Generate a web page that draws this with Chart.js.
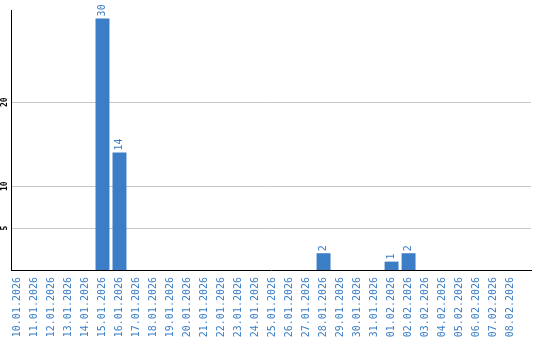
<!DOCTYPE html>
<html>
<head>
<meta charset="utf-8">
<script src="https://cdn.jsdelivr.net/npm/chart.js@4.4.1/dist/chart.umd.min.js"></script>
<style>
  html, body { margin: 0; padding: 0; background: #fff; }
  #wrap { width: 540px; height: 340px; }
</style>
</head>
<body>
<div id="wrap"><canvas id="c"></canvas></div>
<script>
// Chart data
const dates = [
    '10.01.2026', '11.01.2026', '12.01.2026', '13.01.2026', '14.01.2026',
    '15.01.2026', '16.01.2026', '17.01.2026', '18.01.2026', '19.01.2026',
    '20.01.2026', '21.01.2026', '22.01.2026', '23.01.2026', '24.01.2026',
    '25.01.2026', '26.01.2026', '27.01.2026', '28.01.2026', '29.01.2026',
    '30.01.2026', '31.01.2026', '01.02.2026', '02.02.2026', '03.02.2026',
    '04.02.2026', '05.02.2026', '06.02.2026', '07.02.2026', '08.02.2026'
];
const counts = [
    0, 0, 0, 0, 0,
    30, 14, 0, 0, 0,
    0, 0, 0, 0, 0,
    0, 0, 0, 2, 0,
    0, 0, 1, 2, 0,
    0, 0, 0, 0, 0
];
const yTicks = [5, 10, 20];

const BLUE = '#3b7ec5';
const MONO = '"DejaVu Sans Mono", monospace';

// Rotated value labels above bars + rotated y tick labels
const labelsPlugin = {
    id: 'rotLabels',
    afterDatasetsDraw(chart) {
        const ctx = chart.ctx;
        const meta = chart.getDatasetMeta(0);
        ctx.save();
        ctx.font = '10px ' + MONO;
        ctx.fillStyle = BLUE;
        ctx.textAlign = 'left';
        ctx.textBaseline = 'middle';
        meta.data.forEach((bar, i) => {
            if (!counts[i]) return;
            ctx.save();
            ctx.translate(bar.x, bar.y - 2);
            ctx.rotate(-Math.PI / 2);
            ctx.fillText(String(counts[i]), 0, 0);
            ctx.restore();
        });
        ctx.restore();

        const y = chart.scales.y;
        ctx.save();
        ctx.font = 'bold 8px ' + MONO;
        ctx.fillStyle = '#000';
        ctx.textAlign = 'center';
        ctx.textBaseline = 'middle';
        yTicks.forEach(v => {
            ctx.save();
            ctx.translate(5, y.getPixelForValue(v));
            ctx.rotate(-Math.PI / 2);
            ctx.fillText(String(v), 0, 0);
            ctx.restore();
        });
        ctx.restore();
    }
};

new Chart(document.getElementById('c'), {
    type: 'bar',
    data: {
        datasets: [{
            data: counts.map((v, i) => ({ x: i, y: v })),
            backgroundColor: BLUE,
            borderWidth: 0,
            barPercentage: 0.82,
            categoryPercentage: 1
        }]
    },
    options: {
        responsive: true,
        maintainAspectRatio: false,
        animation: false,
        layout: { padding: { left: 0, right: 9, top: 10, bottom: 0 } },
        plugins: {
            legend: { display: false },
            tooltip: { enabled: false }
        },
        scales: {
            x: {
                type: 'linear',
                min: -0.38,
                max: 30.2,
                offset: false,
                afterBuildTicks: scale => {
                    scale.ticks = dates.map((_, i) => ({ value: i }));
                },
                afterFit: scale => { scale.height = 70; },
                grid: { display: false, drawTicks: false },
                border: { display: true, color: '#000', width: 1 },
                ticks: {
                    autoSkip: false,
                    minRotation: 90,
                    maxRotation: 90,
                    padding: 7,
                    color: BLUE,
                    font: { family: MONO, size: 10 },
                    callback: v => dates[v]
                }
            },
            y: {
                min: 0,
                max: 31,
                afterBuildTicks: scale => {
                    scale.ticks = yTicks.map(v => ({ value: v }));
                },
                afterFit: scale => { scale.width = 11; },
                grid: { color: '#c8c8c8', drawTicks: false },
                border: { display: true, color: '#000', width: 1 },
                ticks: { display: false }
            }
        }
    },
    plugins: [labelsPlugin]
});
</script>
</body>
</html>
